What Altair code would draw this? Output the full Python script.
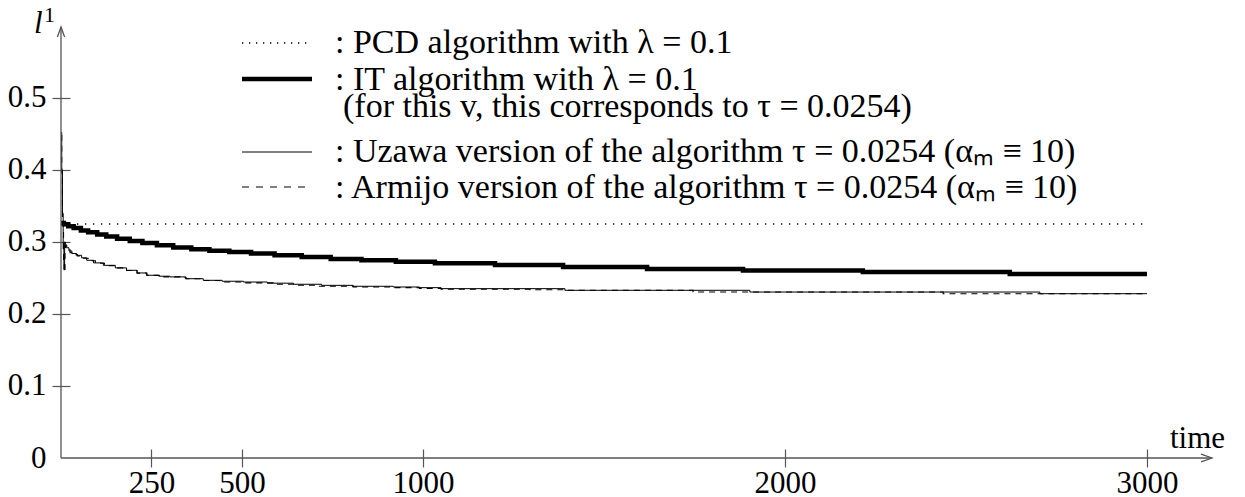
import altair as alt
import pandas as pd

# ---------------- data ----------------
time_pcd = [0, 3000]
l1_pcd = [0.325, 0.325]

time_it = [0, 8, 20, 35, 55, 75, 100, 125, 155, 190, 225, 265, 310, 360, 410,
           465, 525, 590, 665, 745, 830, 925, 1033, 1199, 1387, 1619, 1884,
           2215, 2621, 3000]
l1_it = [0.3265, 0.3245, 0.3220, 0.3195, 0.3160, 0.3135, 0.3105, 0.3075,
         0.3045, 0.3015, 0.2985, 0.2955, 0.2925, 0.2900, 0.2880, 0.2860,
         0.2840, 0.2815, 0.2790, 0.2765, 0.2745, 0.2725, 0.2704, 0.2680,
         0.2653, 0.2625, 0.2605, 0.2585, 0.2556, 0.2556]

time_uzawa = [0, 2, 4, 6, 8, 10, 12, 16, 22, 30, 43, 57, 71, 90, 117, 150,
              181, 210, 237, 270, 301, 345, 393, 445, 504, 570, 642, 720, 807,
              918, 990, 1050, 1392, 1903, 2704, 3000]
l1_uzawa = [0.452, 0.400, 0.340, 0.290, 0.262, 0.300, 0.296, 0.292, 0.2875,
            0.284, 0.2815, 0.278, 0.2746, 0.271, 0.2676, 0.264, 0.2607, 0.257,
            0.2538, 0.2525, 0.2515, 0.249, 0.2468, 0.2455, 0.2444, 0.2428,
            0.2413, 0.2398, 0.2385, 0.2375, 0.2366, 0.2352, 0.2329, 0.2305,
            0.2282, 0.2282]

time_armijo = [0, 2, 4, 7, 9, 11, 14, 18, 25, 35, 45, 60, 75, 95, 120, 150,
               181, 210, 237, 273, 329, 345, 393, 439, 504, 586, 642, 707, 807,
               917, 990, 1050, 1296, 1392, 1746, 2437, 3000]
l1_armijo = [0.448, 0.390, 0.330, 0.275, 0.258, 0.295, 0.292, 0.289, 0.285,
             0.2825, 0.2805, 0.2775, 0.274, 0.2705, 0.2672, 0.264, 0.2605,
             0.2568, 0.2536, 0.2515, 0.2505, 0.249, 0.2465, 0.2445, 0.2432,
             0.2413, 0.2400, 0.2385, 0.2375, 0.2366, 0.2355, 0.2343, 0.2336,
             0.2329, 0.2305, 0.2282, 0.2282]

x_tick_values = [250, 500, 1000, 2000, 3000]
y_tick_values = [0, 0.1, 0.2, 0.3, 0.4, 0.5]

legend_texts = [
    ": PCD algorithm with \u03bb = 0.1",
    ": IT algorithm with \u03bb = 0.1",
    "(for this v, this corresponds to \u03c4 = 0.0254)",
    ": Uzawa version of the algorithm \u03c4 = 0.0254 (\u03b1\u2098 \u2261 10)",
    ": Armijo version of the algorithm \u03c4 = 0.0254 (\u03b1\u2098 \u2261 10)",
]
x_title = "time"
y_title = "l"
y_title_sup = "1"

# ---------------- styling ----------------
W, H = 1151, 431
FONT = "Liberation Serif"
AXIS_COLOR = "#555555"

x_scale = alt.Scale(domain=[0, 3179.6], nice=False, zero=False)
y_scale = alt.Scale(domain=[0, 0.5986], nice=False, zero=False)

x_axis = alt.Axis(values=x_tick_values, format="d", title=None, grid=False,
                  domain=False, tickSize=18, offset=-9, tickColor=AXIS_COLOR,
                  tickWidth=1.2, labelFont=FONT, labelFontSize=31,
                  labelColor="black", labelPadding=1, labelFlush=False,
                  labelOverlap=False)
y_axis = alt.Axis(values=y_tick_values,
                  labelExpr="datum.value == 0 ? '0' : format(datum.value, '.1f')",
                  title=None, grid=False, domain=False, tickSize=18, offset=-9,
                  tickColor=AXIS_COLOR, tickWidth=1.2,
                  tickOpacity={"condition": {"test": "datum.value == 0", "value": 0},
                               "value": 1},
                  labelFont=FONT, labelFontSize=31, labelColor="black",
                  labelPadding=6, labelFlush=False, labelOverlap=False)


def series_df(t, v):
    return pd.DataFrame({"time": t, "l1": v})


def enc():
    return dict(x=alt.X("time:Q", scale=x_scale, axis=x_axis),
                y=alt.Y("l1:Q", scale=y_scale, axis=y_axis))


pcd = alt.Chart(series_df(time_pcd, l1_pcd)).mark_line(
    color="black", strokeWidth=1.3, strokeDash=[1.3, 6.7], strokeCap="butt"
).encode(**enc())

it = alt.Chart(series_df(time_it, l1_it)).mark_line(
    color="black", strokeWidth=4.5, interpolate="step-after", strokeJoin="miter",
    strokeCap="butt"
).encode(**enc())

armijo = alt.Chart(series_df(time_armijo, l1_armijo)).mark_line(
    color="black", strokeWidth=1.1, strokeDash=[6, 5], interpolate="step-after",
    strokeCap="butt"
).encode(**enc())

uzawa = alt.Chart(series_df(time_uzawa, l1_uzawa)).mark_line(
    color="black", strokeWidth=1.0, interpolate="step-after", strokeCap="butt"
).encode(**enc())

one = pd.DataFrame({"a": [0]})

# axis lines with arrows
x_line = alt.Chart(one).mark_rule(color=AXIS_COLOR, strokeWidth=1.3).encode(
    x=alt.value(0), x2=alt.value(W), y=alt.value(H))
y_line = alt.Chart(one).mark_rule(color=AXIS_COLOR, strokeWidth=1.3).encode(
    x=alt.value(0), y=alt.value(0), y2=alt.value(H))
x_arrow = alt.Chart(one).mark_point(
    shape="M -1 -0.36 L 0 0 L -1 0.36", filled=False, stroke=AXIS_COLOR,
    strokeWidth=1.3, size=484, opacity=1
).encode(x=alt.value(W), y=alt.value(H))
y_arrow = alt.Chart(one).mark_point(
    shape="M -0.36 1 L 0 0 L 0.36 1", filled=False, stroke=AXIS_COLOR,
    strokeWidth=1.3, size=400, opacity=1
).encode(x=alt.value(0), y=alt.value(0))

x_title_mark = alt.Chart(one).mark_text(
    font=FONT, fontSize=31, align="left", baseline="alphabetic", color="black"
).encode(x=alt.value(1109), y=alt.value(421), text=alt.value(x_title))
y_title_mark = alt.Chart(one).mark_text(
    font=FONT, fontSize=31, fontStyle="italic", align="left",
    baseline="alphabetic", color="black"
).encode(x=alt.value(-27), y=alt.value(6), text=alt.value(y_title))
y_title_sup_mark = alt.Chart(one).mark_text(
    font=FONT, fontSize=22, align="left", baseline="alphabetic", color="black"
).encode(x=alt.value(-17), y=alt.value(-5), text=alt.value(y_title_sup))

# legend
LX0, LX1 = 181, 251
leg_pcd = alt.Chart(one).mark_rule(color="black", strokeWidth=1.3,
                                   strokeDash=[1.3, 5.7], strokeCap="butt").encode(
    x=alt.value(LX0), x2=alt.value(LX1), y=alt.value(16))
leg_it = alt.Chart(one).mark_rule(color="black", strokeWidth=4.5,
                                  strokeCap="butt").encode(
    x=alt.value(LX0), x2=alt.value(LX1), y=alt.value(52))
leg_uz = alt.Chart(one).mark_rule(color="black", strokeWidth=1.0,
                                  strokeCap="butt").encode(
    x=alt.value(LX0), x2=alt.value(LX1), y=alt.value(125))
leg_ar = alt.Chart(one).mark_rule(color="black", strokeWidth=1.1,
                                  strokeDash=[7, 7], strokeCap="butt").encode(
    x=alt.value(LX0), x2=alt.value(LX1), y=alt.value(160))

text_pos = [(274, 26), (274, 63), (282, 90), (274, 135), (274, 171)]
legend_text_layers = []
for (tx, ty), txt in zip(text_pos, legend_texts):
    legend_text_layers.append(
        alt.Chart(one).mark_text(font=FONT, fontSize=34, align="left",
                                 baseline="alphabetic", color="black").encode(
            x=alt.value(tx), y=alt.value(ty), text=alt.value(txt)))

chart = alt.layer(
    pcd, it, armijo, uzawa,
    x_line, y_line, x_arrow, y_arrow,
    x_title_mark, y_title_mark, y_title_sup_mark,
    leg_pcd, leg_it, leg_uz, leg_ar,
    *legend_text_layers,
).properties(
    width=W, height=H,
    padding={"left": 53, "top": 19, "right": 25, "bottom": 39},
    autosize=alt.AutoSizeParams(type="none"),
    background="white",
).configure_view(stroke=None)

chart.save("out.html", embed_options={"renderer": "svg", "actions": False})
